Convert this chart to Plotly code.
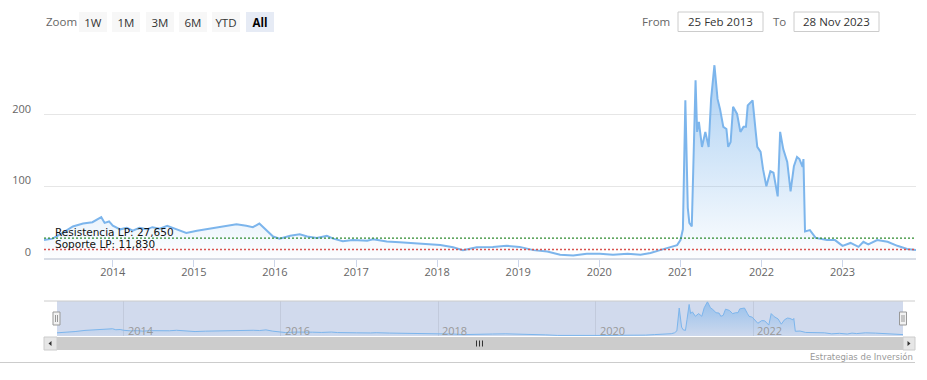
import plotly.graph_objects as go

# ---------------- data ----------------
dates = [
    "2013-02-25", "2013-04-05", "2013-05-20", "2013-07-05", "2013-08-20", "2013-10-01",
    "2013-11-10", "2013-11-25", "2013-12-15", "2014-01-01", "2014-02-03", "2014-03-05",
    "2014-04-01", "2014-05-01", "2014-06-03", "2014-06-28", "2014-08-01", "2014-09-03",
    "2014-09-28", "2014-11-01", "2014-11-28", "2015-01-15", "2015-03-01", "2015-04-12",
    "2015-05-30", "2015-07-12", "2015-08-25", "2015-09-24", "2015-10-23", "2015-11-24",
    "2015-12-24", "2016-01-22", "2016-03-10", "2016-04-22", "2016-05-26", "2016-07-08",
    "2016-08-22", "2016-09-20", "2016-11-02", "2016-12-17", "2017-02-20", "2017-03-18",
    "2017-05-19", "2017-07-16", "2017-09-13", "2017-11-17", "2018-01-15", "2018-03-14",
    "2018-04-27", "2018-06-28", "2018-09-09", "2018-11-10", "2019-01-08", "2019-03-10",
    "2019-05-12", "2019-07-09", "2019-09-06", "2019-11-06", "2020-01-04", "2020-03-03",
    "2020-05-08", "2020-07-05", "2020-08-19", "2020-10-01", "2020-11-17", "2020-12-17",
    "2021-01-01", "2021-01-12", "2021-01-23", "2021-02-03", "2021-02-10", "2021-02-21",
    "2021-02-28", "2021-03-10", "2021-03-17", "2021-03-25", "2021-04-08", "2021-04-23",
    "2021-05-08", "2021-05-19", "2021-06-03", "2021-06-17", "2021-06-28", "2021-07-13",
    "2021-07-27", "2021-08-04", "2021-08-15", "2021-08-26", "2021-09-13", "2021-09-28",
    "2021-10-12", "2021-10-23", "2021-10-31", "2021-11-22", "2021-12-06", "2021-12-13",
    "2021-12-28", "2022-01-08", "2022-01-23", "2022-02-10", "2022-02-24", "2022-03-15",
    "2022-03-26", "2022-04-09", "2022-04-27", "2022-05-12", "2022-05-27", "2022-06-10",
    "2022-06-21", "2022-07-05", "2022-07-09", "2022-07-16", "2022-08-07", "2022-09-02",
    "2022-10-23", "2022-11-28", "2023-01-01", "2023-02-06", "2023-03-14", "2023-04-05",
    "2023-04-27", "2023-06-06", "2023-07-23", "2023-09-05", "2023-10-19", "2023-11-28",
]
prices = [
    25, 27, 35, 44, 48, 50,
    57, 49, 51, 45, 40, 42,
    38, 42, 40, 43, 41, 45,
    42, 38, 35, 38, 40, 42,
    45, 47, 45, 43, 48, 38,
    30, 27, 31, 33, 30, 28,
    31, 27, 23.5, 25, 24, 26,
    23, 22, 21, 19.5, 18, 15,
    11, 15, 15.5, 17, 15.5, 11,
    9, 4.5, 3.6, 6, 6, 4.6,
    6, 4.6, 7, 11, 15, 18,
    25, 40, 220, 70, 49, 44,
    128, 248, 176, 190, 155, 176,
    155, 222, 269, 222, 208, 183,
    180, 155, 162, 211, 201, 176,
    183, 183, 213, 220, 176, 155,
    148, 124, 100, 121, 119, 86,
    176, 152, 134, 93, 128, 141,
    138, 127, 138, 37, 39, 28,
    25, 25, 17, 21, 15.5, 22.6,
    19, 25, 22.6, 17, 12.7, 11,
]
resistencia = 27.65
soporte = 11.83
resistencia_label = "Resistencia LP: 27,650"
soporte_label = "Soporte LP: 11,830"
y_ticks = [0, 100, 200, 300]
y_ticktext = ["0", "100", "200", ""]
nav_years = ["2014", "2016", "2018", "2020", "2022"]
zoom_buttons = ["1W", "1M", "3M", "6M", "YTD", "All"]
from_text = "25 Feb 2013"
to_text = "28 Nov 2023"
credit = "Estrategias de Inversión"

# ---------------- geometry helpers ----------------
W, H = 927, 380
L, R, T, B = 44, 11, 43, 30
PW, PH = W - L - R, H - T - B


def X(px):
    return (px - L) / PW


def Y(py):
    return (H - B - py) / PH


FONT = "Open Sans, DejaVu Sans, sans-serif"
BLUE = "#7cb5ec"

fig = go.Figure()

fig.add_trace(go.Scatter(
    x=dates, y=prices, mode="lines", xaxis="x", yaxis="y",
    line=dict(color=BLUE, width=2),
    fill="tozeroy",
    fillgradient=dict(type="vertical", start=0, stop=300,
                      colorscale=[[0, "rgba(124,181,236,0.02)"], [1, "rgba(124,181,236,0.72)"]]),
    hoverinfo="x+y", showlegend=False,
))

fig.add_trace(go.Scatter(
    x=dates, y=prices, mode="lines", xaxis="x2", yaxis="y2",
    line=dict(color=BLUE, width=1),
    fill="tozeroy",
    fillgradient=dict(type="vertical", start=0, stop=275,
                      colorscale=[[0, "rgba(124,181,236,0.05)"], [1, "rgba(124,181,236,0.7)"]]),
    hoverinfo="skip", showlegend=False,
))

shapes = []
annotations = []

# plot lines (resistance / support)
shapes.append(dict(type="line", xref="paper", yref="y", x0=0, x1=1, y0=resistencia, y1=resistencia,
                   line=dict(color="#2e8b2e", width=1.3, dash="2px,2px"), layer="above"))
shapes.append(dict(type="line", xref="paper", yref="y", x0=0, x1=1, y0=soporte, y1=soporte,
                   line=dict(color="#d9534f", width=1.3, dash="2px,2px"), layer="above"))
annotations.append(dict(xref="paper", yref="y", x=X(53), y=resistencia, xanchor="left", yanchor="bottom",
                        text=resistencia_label, showarrow=False, yshift=-2,
                        font=dict(family="DejaVu Sans, sans-serif", size=10.5, color="#111")))
annotations.append(dict(xref="paper", yref="y", x=X(53), y=soporte, xanchor="left", yanchor="bottom",
                        text=soporte_label, showarrow=False, yshift=-2,
                        font=dict(family="DejaVu Sans, sans-serif", size=10.5, color="#111")))

# zoom label + buttons
annotations.append(dict(xref="paper", yref="paper", x=X(44), y=Y(22), xanchor="left", yanchor="middle",
                        text="Zoom", showarrow=False, font=dict(family=FONT, size=11.5, color="#666")))
for i, b in enumerate(zoom_buttons):
    left = 79 + i * 33.3
    active = (b == "All")
    annotations.append(dict(
        xref="paper", yref="paper", x=X(left), y=Y(12), xanchor="left", yanchor="top",
        width=28, height=20, borderpad=0, borderwidth=0, align="center", valign="middle",
        bgcolor="#e6ebf5" if active else "#f7f7f7",
        text=("<b>%s</b>" % b) if active else b, showarrow=False,
        font=dict(family=FONT, size=11.5, color="#000" if active else "#333")))

# From / To boxes
annotations.append(dict(xref="paper", yref="paper", x=X(672), y=Y(22), xanchor="right", yanchor="middle",
                        text="From", showarrow=False, font=dict(family=FONT, size=11.5, color="#666")))
annotations.append(dict(xref="paper", yref="paper", x=X(788), y=Y(22), xanchor="right", yanchor="middle",
                        text="To", showarrow=False, font=dict(family=FONT, size=11.5, color="#666")))
for left, txt in [(678, from_text), (794, to_text)]:
    shapes.append(dict(type="rect", xref="paper", yref="paper", x0=X(left), x1=X(left + 85),
                       y0=Y(31.5), y1=Y(12), line=dict(color="#cccccc", width=1), fillcolor="white"))
    annotations.append(dict(xref="paper", yref="paper", x=X(left + 42.5), y=Y(22), xanchor="center",
                            yanchor="middle", text=txt, showarrow=False,
                            font=dict(family=FONT, size=11.5, color="#333")))

# navigator mask + outline
shapes.append(dict(type="rect", xref="paper", yref="paper", x0=X(57), x1=X(903), y0=Y(336), y1=Y(301),
                   fillcolor="rgba(102,133,194,0.3)", line=dict(width=0), layer="below"))
shapes.append(dict(type="line", xref="paper", yref="paper", x0=X(44), x1=X(915), y0=Y(301), y1=Y(301),
                   line=dict(color="#cccccc", width=1)))
# navigator axis labels (left-aligned next to the grid line)
for yr in nav_years:
    annotations.append(dict(xref="x2", yref="paper", x=yr + "-01-01", y=Y(330), xanchor="left",
                            yanchor="middle", xshift=2, text=yr, showarrow=False,
                            font=dict(family=FONT, size=11, color="#999999")))
# navigator handles
for cx in (56.5, 903):
    shapes.append(dict(type="rect", xref="paper", yref="paper", x0=X(cx - 3.5), x1=X(cx + 3.5),
                       y0=Y(325), y1=Y(312), fillcolor="#f2f2f2", line=dict(color="#999999", width=1)))
    for dx in (-1, 1):
        shapes.append(dict(type="line", xref="paper", yref="paper", x0=X(cx + dx), x1=X(cx + dx),
                           y0=Y(322), y1=Y(315), line=dict(color="#999999", width=1)))

# scrollbar
shapes.append(dict(type="rect", xref="paper", yref="paper", x0=X(44), x1=X(915), y0=Y(350), y1=Y(337),
                   fillcolor="#f2f2f2", line=dict(width=0)))
shapes.append(dict(type="rect", xref="paper", yref="paper", x0=X(57), x1=X(903), y0=Y(350), y1=Y(337),
                   fillcolor="#cccccc", line=dict(width=0)))
for x0, x1 in ((44, 57), (903, 915)):
    shapes.append(dict(type="rect", xref="paper", yref="paper", x0=X(x0), x1=X(x1), y0=Y(350), y1=Y(337),
                       fillcolor="#e6e6e6", line=dict(color="#cccccc", width=1)))
shapes.append(dict(type="path", xref="paper", yref="paper",
                   path="M %f %f L %f %f L %f %f Z" % (X(51.5), Y(341), X(48.5), Y(343.5), X(51.5), Y(346)),
                   fillcolor="#333333", line=dict(width=0)))
shapes.append(dict(type="path", xref="paper", yref="paper",
                   path="M %f %f L %f %f L %f %f Z" % (X(907.5), Y(341), X(910.5), Y(343.5), X(907.5), Y(346)),
                   fillcolor="#333333", line=dict(width=0)))
for rx in (476.5, 479.5, 482.5):
    shapes.append(dict(type="line", xref="paper", yref="paper", x0=X(rx), x1=X(rx), y0=Y(346.5), y1=Y(340.5),
                       line=dict(color="#333333", width=1)))

# bottom separator line + credit
shapes.append(dict(type="line", xref="paper", yref="paper", x0=X(0), x1=X(915), y0=Y(362.5), y1=Y(362.5),
                   line=dict(color="#cccccc", width=1)))
annotations.append(dict(xref="paper", yref="paper", x=X(915), y=Y(356.5), xanchor="right", yanchor="middle",
                        text=credit, showarrow=False, font=dict(family="DejaVu Sans, sans-serif", size=8.5,
                                                                color="#999999")))

fig.update_layout(
    width=W, height=H,
    margin=dict(l=L, r=R, t=T, b=B, pad=0),
    paper_bgcolor="white", plot_bgcolor="rgba(0,0,0,0)",
    font=dict(family=FONT, size=11, color="#666"),
    showlegend=False,
    xaxis=dict(domain=[0, 1], anchor="y", type="date", range=[dates[0], dates[-1]],
               tick0="2014-01-01", dtick="M12", tickformat="%Y",
               showgrid=False, zeroline=False,
               showline=True, linecolor="#d8dde6", linewidth=2,
               ticks="outside", ticklen=7, tickcolor="#ccd6eb", tickwidth=1,
               ticklabelstandoff=-4,
               tickfont=dict(family=FONT, size=11, color="#666")),
    yaxis=dict(domain=[Y(258), 1], anchor="x", range=[0, 300],
               tickvals=y_ticks, ticktext=y_ticktext,
               showgrid=True, gridcolor="#e6e6e6", gridwidth=1, zeroline=False, showline=False,
               ticks="", ticklabelstandoff=12, ticklabelshift=-6,
               tickfont=dict(family=FONT, size=11, color="#666")),
    xaxis2=dict(domain=[X(57), X(903)], anchor="y2", type="date", range=[dates[0], dates[-1]],
                tick0="2014-01-01", dtick="M24", tickformat="%Y",
                showgrid=True, gridcolor="rgba(0,0,0,0.07)", zeroline=False, showline=False,
                ticks="", showticklabels=False),
    yaxis2=dict(domain=[Y(336), Y(301)], anchor="x2", range=[0, 275],
                showgrid=False, zeroline=False, showticklabels=False, showline=False, ticks=""),
    shapes=shapes,
    annotations=annotations,
)

fig.write_html("out.html", config={"displayModeBar": False},
               post_script="document.body.style.margin='0';")
